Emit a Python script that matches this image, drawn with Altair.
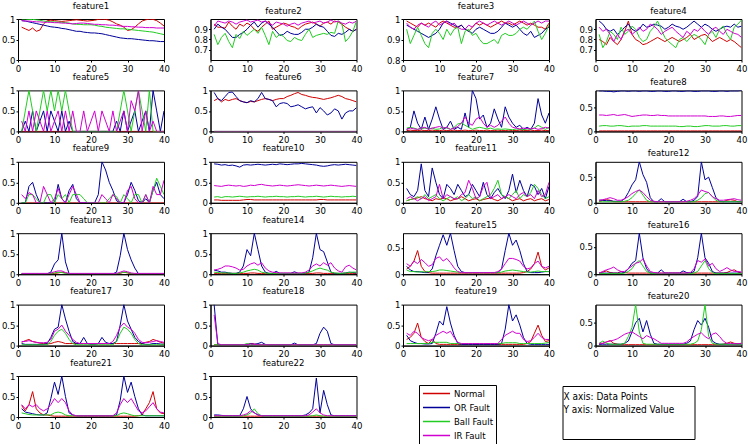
import altair as alt

FONT = "DejaVu Sans Condensed, Liberation Sans, sans-serif"
LABELS = ["Normal", "OR Fault", "Ball Fault", "IR Fault"]
KEYS = ["normal", "outer", "ball", "inner"]
COLORS = ["#d00000", "#000099", "#22cc22", "#d000d0"]
XTICKS = [0, 10, 20, 30, 40]
NOTE_LINES = ["X axis: Data Points", "Y axis: Normalized Value"]

# values in percent of the normalized range, for data points 1..40
F1 = dict(
    normal=[80, 76, 72, 78, 70, 73, 88, 96, 97, 96,
            95, 94, 95, 96, 97, 98, 97, 96, 95, 96,
            97, 99, 100, 99, 97, 93, 88, 85, 80, 72,
            74, 80, 88, 95, 98, 100, 99, 96, 90, 83],
    outer=[96, 95, 93, 91, 89, 87, 85, 83, 81, 80,
           79, 77, 76, 74, 72, 70, 70, 68, 67, 66,
           66, 65, 64, 62, 60, 58, 56, 54, 53, 52,
           52, 51, 50, 49, 48, 47, 47, 46, 45, 45],
    ball=[100, 100, 99, 99, 98, 97, 95, 94, 93, 93,
          92, 92, 91, 90, 88, 87, 87, 86, 86, 86,
          85, 83, 82, 80, 79, 78, 77, 76, 76, 75,
          74, 73, 72, 71, 70, 69, 68, 66, 64, 62],
    inner=[96, 95, 95, 94, 93, 93, 92, 92, 92, 91,
           91, 90, 90, 89, 88, 89, 90, 90, 89, 88,
           87, 87, 86, 86, 85, 85, 84, 83, 82, 82,
           81, 81, 80, 80, 79, 79, 79, 78, 78, 78],
)
F2 = dict(
    normal=[95, 92, 92, 91, 97, 93, 90, 95, 93, 96,
            94, 90, 88, 92, 95, 98, 90, 92, 94, 96,
            95, 93, 92, 90, 93, 95, 96, 97, 95, 93,
            96, 97, 95, 98, 97, 95, 92, 90, 88, 90],
    outer=[90, 95, 92, 90, 86, 82, 82, 85, 87, 90,
           94, 97, 92, 96, 98, 95, 92, 88, 84, 85,
           88, 86, 85, 85, 87, 90, 90, 92, 95, 93,
           92, 88, 84, 83, 86, 85, 87, 90, 88, 90],
    ball=[85, 75, 82, 86, 78, 72, 85, 81, 88, 84,
          87, 90, 86, 92, 84, 75, 88, 82, 85, 83,
          79, 78, 82, 80, 79, 85, 90, 82, 84, 85,
          86, 85, 87, 86, 98, 95, 78, 82, 88, 98],
    inner=[93, 98, 97, 96, 98, 97, 95, 97, 98, 99,
           97, 98, 99, 97, 98, 96, 94, 97, 96, 95,
           93, 95, 96, 94, 96, 97, 98, 96, 97, 98,
           96, 97, 99, 97, 98, 96, 95, 97, 96, 98],
)
F3 = dict(
    normal=[99, 98, 97, 96, 98, 97, 98, 97, 96, 98,
            99, 98, 97, 96, 96, 97, 95, 94, 96, 98,
            97, 98, 97, 96, 97, 98, 99, 98, 98, 97,
            98, 99, 98, 97, 98, 97, 96, 96, 95, 98],
    outer=[97, 96, 95, 94, 93, 92, 91, 92, 93, 95,
           98, 99, 98, 97, 96, 97, 95, 94, 93, 95,
           96, 95, 94, 93, 93, 94, 96, 98, 97, 96,
           97, 95, 93, 92, 94, 91, 92, 93, 95, 96],
    ball=[95, 88, 92, 96, 92, 88, 86, 93, 95, 93,
          90, 95, 92, 95, 96, 88, 94, 95, 92, 93,
          90, 88, 88, 89, 90, 88, 92, 93, 92, 92,
          93, 95, 96, 95, 97, 99, 94, 90, 93, 97],
    inner=[98, 96, 95, 97, 98, 97, 96, 98, 99, 97,
           98, 99, 97, 98, 96, 95, 95, 97, 96, 98,
           99, 98, 97, 98, 99, 98, 97, 98, 99, 98,
           97, 98, 99, 98, 97, 98, 99, 98, 99, 99],
)
F4 = dict(
    normal=[80, 78, 75, 82, 78, 75, 80, 88, 98, 85,
            80, 78, 75, 76, 78, 80, 82, 80, 78, 80,
            82, 80, 78, 80, 82, 85, 80, 82, 84, 85,
            82, 78, 80, 82, 80, 78, 80, 78, 75, 72],
    outer=[98, 95, 90, 88, 90, 85, 88, 92, 95, 90,
           88, 90, 95, 92, 93, 95, 94, 93, 90, 92,
           95, 93, 92, 90, 92, 95, 98, 95, 92, 95,
           93, 90, 88, 90, 92, 93, 92, 95, 92, 93],
    ball=[85, 72, 78, 88, 85, 80, 92, 85, 88, 93,
          90, 82, 78, 80, 88, 92, 98, 90, 82, 78,
          75, 72, 80, 82, 78, 82, 85, 83, 80, 75,
          85, 88, 82, 90, 93, 85, 80, 92, 95, 99],
    inner=[92, 88, 90, 85, 78, 85, 80, 88, 90, 85,
           88, 92, 88, 90, 95, 93, 90, 85, 88, 90,
           92, 88, 85, 82, 88, 85, 90, 88, 92, 88,
           85, 90, 92, 88, 85, 90, 88, 86, 85, 82],
)
F5 = dict(
    normal=[0, 0, 0, 0, 0, 0, 0, 0, 0, 0,
            0, 0, 0, 0, 0, 0, 0, 0, 0, 0,
            0, 0, 0, 0, 0, 0, 0, 0, 0, 0,
            0, 0, 0, 0, 0, 0, 0, 0, 0, 0],
    outer=[0, 25, 0, 50, 0, 25, 50, 0, 50, 25,
           0, 50, 0, 25, 0, 0, 0, 0, 0, 0,
           0, 0, 0, 0, 0, 0, 25, 0, 50, 0,
           25, 50, 0, 25, 50, 0, 100, 50, 0, 50],
    ball=[0, 50, 100, 50, 0, 50, 100, 50, 100, 50,
          100, 50, 100, 50, 0, 0, 0, 0, 0, 0,
          0, 0, 0, 0, 0, 0, 0, 50, 100, 50,
          0, 50, 100, 50, 0, 100, 0, 0, 0, 0],
    inner=[25, 0, 50, 0, 50, 25, 0, 50, 0, 25,
           50, 0, 50, 0, 50, 0, 0, 50, 0, 25,
           50, 0, 50, 25, 0, 50, 0, 25, 50, 0,
           75, 50, 100, 0, 50, 0, 25, 0, 0, 0],
)
F6 = dict(
    normal=[75, 80, 72, 78, 75, 78, 80, 75, 72, 70,
            73, 72, 75, 78, 80, 78, 75, 78, 80, 80,
            85, 88, 92, 95, 90, 88, 85, 83, 82, 80,
            78, 80, 82, 85, 88, 85, 80, 78, 75, 72],
    outer=[95, 80, 75, 85, 95, 96, 85, 75, 72, 70,
           75, 72, 80, 95, 80, 78, 75, 60, 68, 70,
           68, 60, 62, 65, 60, 55, 58, 60, 45, 58,
           50, 40, 45, 55, 50, 30, 45, 50, 50, 58],
    ball=[0, 0, 0, 0, 0, 0, 0, 0, 0, 0,
          0, 0, 0, 0, 0, 0, 0, 0, 0, 0,
          0, 0, 0, 0, 0, 0, 0, 0, 0, 0,
          0, 0, 0, 0, 0, 0, 0, 0, 0, 0],
    inner=[0, 0, 0, 0, 0, 0, 0, 0, 0, 0,
           0, 0, 0, 0, 0, 0, 0, 0, 0, 0,
           0, 0, 0, 0, 0, 0, 0, 0, 0, 0,
           0, 0, 0, 0, 0, 0, 0, 0, 0, 0],
)
F7 = dict(
    normal=[2, 3, 2, 2, 3, 2, 2, 3, 2, 2,
            3, 2, 2, 3, 2, 2, 3, 2, 2, 3,
            2, 2, 3, 2, 2, 3, 2, 2, 3, 2,
            2, 3, 2, 2, 3, 2, 2, 3, 2, 2],
    outer=[5, 10, 50, 20, 5, 35, 5, 30, 60, 30,
           5, 10, 25, 5, 10, 5, 45, 10, 100, 80,
           30, 40, 10, 20, 55, 30, 10, 60, 35, 20,
           10, 15, 5, 10, 5, 20, 80, 40, 20, 45],
    ball=[8, 10, 8, 5, 7, 8, 6, 8, 5, 6,
          10, 8, 5, 10, 18, 20, 15, 10, 5, 8,
          10, 8, 6, 8, 5, 6, 5, 6, 5, 4,
          6, 5, 4, 6, 5, 8, 15, 10, 5, 10],
    inner=[5, 8, 6, 5, 8, 10, 5, 8, 10, 12,
           8, 10, 5, 8, 12, 20, 35, 20, 15, 30,
           35, 20, 10, 15, 10, 15, 25, 35, 20, 10,
           8, 6, 8, 7, 6, 8, 5, 7, 10, 8],
)
F8 = dict(
    normal=[1, 1, 1, 1, 1, 1, 1, 1, 1, 1,
            1, 1, 1, 1, 1, 1, 1, 1, 1, 1,
            1, 1, 1, 1, 1, 1, 1, 1, 1, 1,
            1, 1, 1, 1, 1, 1, 1, 1, 1, 1],
    outer=[84, 84, 83, 83, 82, 83, 84, 84, 83, 84,
           84, 83, 84, 84, 83, 83, 84, 84, 83, 83,
           84, 84, 83, 83, 84, 84, 83, 83, 84, 84,
           84, 83, 83, 84, 84, 83, 84, 84, 84, 85],
    ball=[11, 12, 12, 11, 11, 12, 12, 11, 10, 11,
          11, 11, 12, 12, 11, 11, 11, 11, 11, 11,
          11, 11, 10, 10, 11, 11, 10, 10, 11, 12,
          12, 11, 11, 11, 12, 12, 11, 11, 12, 12],
    inner=[34, 34, 33, 34, 35, 33, 34, 35, 33, 31,
           32, 33, 34, 34, 33, 33, 34, 33, 33, 32,
           32, 32, 32, 32, 32, 32, 32, 32, 32, 32,
           31, 31, 31, 32, 32, 31, 31, 32, 33, 33],
)
F9 = dict(
    normal=[0, 0, 0, 0, 0, 0, 0, 0, 0, 0,
            0, 0, 0, 0, 0, 0, 0, 0, 0, 0,
            0, 0, 0, 0, 0, 0, 0, 0, 0, 0,
            0, 0, 0, 0, 0, 0, 0, 0, 0, 0],
    outer=[0, 0, 40, 50, 20, 0, 0, 0, 0, 0,
           45, 10, 0, 30, 45, 10, 0, 0, 0, 0,
           0, 20, 100, 80, 50, 30, 5, 0, 0, 20,
           50, 30, 5, 0, 10, 0, 30, 50, 20, 10],
    ball=[0, 0, 20, 20, 10, 0, 0, 20, 20, 0,
          20, 10, 20, 0, 20, 20, 20, 10, 0, 0,
          0, 0, 0, 0, 10, 20, 15, 0, 20, 10,
          0, 20, 20, 0, 20, 0, 30, 60, 40, 20],
    inner=[20, 10, 25, 20, 0, 0, 40, 20, 0, 10,
           35, 10, 0, 20, 40, 20, 0, 0, 0, 0,
           0, 0, 20, 10, 0, 20, 10, 0, 0, 30,
           40, 10, 0, 0, 20, 0, 40, 20, 20, 55],
)
F10 = dict(
    normal=[7, 7, 6, 6, 6, 6, 6, 6, 7, 8,
            8, 7, 7, 7, 7, 7, 7, 7, 7, 7,
            7, 7, 7, 7, 7, 7, 7, 7, 7, 8,
            8, 7, 7, 7, 7, 7, 7, 7, 7, 7],
    outer=[95, 94, 92, 93, 91, 92, 90, 87, 92, 93,
           92, 93, 94, 93, 92, 93, 94, 93, 95, 94,
           93, 94, 95, 95, 96, 95, 94, 93, 92, 90,
           89, 90, 92, 93, 92, 93, 94, 93, 92, 91],
    ball=[14, 15, 13, 15, 15, 14, 15, 16, 15, 14,
          15, 15, 16, 15, 14, 15, 15, 16, 15, 15,
          14, 15, 15, 16, 15, 14, 15, 15, 16, 15,
          14, 15, 16, 15, 15, 14, 15, 15, 16, 15],
    inner=[42, 41, 40, 42, 43, 42, 41, 42, 40, 41,
           43, 42, 44, 45, 43, 42, 41, 42, 43, 42,
           41, 42, 43, 44, 43, 42, 41, 42, 43, 42,
           41, 42, 43, 42, 41, 40, 41, 42, 41, 40],
)
F11 = dict(
    normal=[5, 8, 10, 12, 15, 10, 8, 5, 10, 8,
            12, 10, 5, 8, 10, 15, 10, 5, 8, 10,
            5, 8, 10, 12, 8, 5, 10, 15, 10, 5,
            8, 10, 5, 8, 10, 5, 8, 10, 5, 8],
    outer=[35, 20, 15, 30, 95, 30, 15, 85, 50, 20,
           10, 45, 35, 20, 45, 30, 15, 20, 45, 30,
           15, 50, 20, 10, 25, 35, 20, 10, 30, 70,
           25, 55, 30, 15, 45, 40, 20, 35, 10, 40],
    ball=[5, 8, 10, 15, 10, 20, 10, 15, 20, 10,
          5, 10, 15, 10, 15, 5, 10, 20, 10, 15,
          5, 10, 15, 20, 35, 55, 20, 15, 10, 20,
          30, 10, 20, 15, 25, 45, 35, 20, 10, 15],
    inner=[10, 15, 10, 5, 10, 15, 5, 10, 15, 45,
           10, 20, 15, 10, 10, 20, 25, 55, 35, 10,
           15, 40, 50, 10, 15, 20, 10, 15, 20, 15,
           10, 20, 25, 15, 20, 10, 30, 15, 20, 50],
)
F12 = dict(
    normal=[2, 5, 6, 5, 2, 2, 2, 2, 2, 2,
            2, 2, 2, 2, 2, 2, 2, 2, 2, 2,
            2, 2, 2, 2, 2, 2, 2, 2, 2, 2,
            2, 2, 2, 2, 2, 5, 6, 5, 2, 2],
    outer=[5, 5, 4, 4, 3, 3, 3, 8, 20, 35,
           45, 80, 55, 40, 10, 2, 2, 8, 2, 2,
           2, 2, 2, 7, 2, 2, 5, 12, 80, 45,
           50, 30, 10, 3, 2, 2, 2, 2, 2, 2],
    ball=[2, 2, 2, 2, 2, 2, 2, 3, 5, 10,
          18, 25, 15, 5, 2, 2, 2, 2, 2, 2,
          2, 2, 2, 2, 2, 2, 2, 5, 10, 18,
          20, 12, 5, 2, 2, 2, 2, 2, 2, 2],
    inner=[5, 6, 8, 10, 8, 5, 5, 8, 12, 18,
           22, 25, 20, 12, 5, 3, 2, 2, 2, 2,
           2, 2, 2, 2, 3, 5, 8, 15, 25, 22,
           20, 12, 8, 5, 5, 6, 7, 8, 6, 5],
)
F13 = dict(
    normal=[1, 1, 1, 1, 1, 1, 1, 1, 1, 2,
            3, 5, 3, 1, 1, 1, 1, 1, 1, 1,
            1, 1, 1, 1, 1, 1, 1, 2, 5, 3,
            1, 1, 1, 1, 1, 1, 1, 1, 1, 1],
    outer=[1, 1, 1, 1, 1, 1, 1, 1, 5, 25,
           35, 100, 30, 1, 1, 1, 1, 1, 1, 1,
           1, 1, 1, 1, 1, 1, 5, 45, 100, 60,
           35, 15, 1, 1, 1, 1, 1, 1, 1, 1],
    ball=[1, 1, 1, 1, 1, 1, 1, 1, 2, 3,
          5, 4, 2, 1, 1, 1, 1, 1, 1, 1,
          1, 1, 1, 1, 1, 1, 1, 3, 5, 4,
          2, 1, 1, 1, 1, 1, 1, 1, 1, 1],
    inner=[2, 2, 2, 2, 2, 2, 2, 2, 3, 6,
           8, 8, 4, 2, 2, 2, 2, 2, 2, 2,
           2, 2, 2, 2, 2, 2, 2, 5, 8, 6,
           3, 2, 2, 2, 2, 2, 2, 2, 2, 2],
)
F14 = dict(
    normal=[2, 2, 2, 2, 2, 2, 2, 2, 2, 2,
            3, 3, 2, 2, 2, 2, 2, 2, 2, 2,
            2, 2, 2, 2, 2, 2, 2, 2, 3, 3,
            2, 2, 2, 2, 2, 2, 2, 2, 2, 2],
    outer=[10, 8, 5, 5, 3, 2, 2, 5, 20, 60,
           45, 100, 60, 20, 5, 2, 2, 7, 2, 2,
           2, 2, 6, 2, 2, 3, 5, 40, 100, 60,
           55, 30, 5, 2, 2, 2, 3, 5, 4, 3],
    ball=[5, 4, 3, 3, 3, 2, 2, 3, 5, 8,
          10, 12, 10, 5, 3, 2, 2, 2, 2, 2,
          2, 2, 2, 2, 2, 3, 5, 8, 12, 15,
          12, 10, 5, 3, 2, 2, 3, 4, 5, 5],
    inner=[10, 12, 15, 20, 20, 18, 15, 10, 12, 20,
           25, 28, 22, 28, 15, 8, 5, 4, 3, 3,
           3, 3, 3, 3, 3, 5, 10, 20, 25, 20,
           28, 22, 28, 15, 8, 5, 18, 22, 15, 10],
)
F15 = dict(
    normal=[10, 15, 25, 45, 15, 5, 3, 2, 2, 2,
            2, 2, 2, 2, 2, 2, 2, 2, 2, 2,
            2, 2, 2, 2, 2, 2, 2, 2, 2, 2,
            2, 2, 3, 5, 10, 20, 42, 15, 8, 12],
    outer=[15, 8, 5, 5, 4, 3, 3, 10, 35, 55,
           75, 55, 78, 45, 15, 5, 3, 3, 3, 3,
           3, 3, 3, 3, 3, 3, 10, 45, 78, 55,
           65, 45, 20, 5, 3, 3, 3, 4, 5, 5],
    ball=[8, 5, 5, 4, 5, 4, 5, 5, 6, 8,
          8, 7, 6, 5, 4, 3, 3, 3, 3, 3,
          3, 3, 3, 3, 3, 3, 4, 6, 7, 8,
          7, 6, 5, 4, 4, 5, 6, 5, 5, 5],
    inner=[20, 15, 25, 20, 28, 22, 15, 18, 30, 33,
           25, 30, 22, 12, 5, 3, 3, 3, 3, 3,
           3, 3, 3, 3, 3, 5, 10, 20, 30, 30,
           28, 25, 15, 10, 12, 20, 25, 15, 12, 15],
)
F16 = dict(
    normal=[2, 4, 6, 3, 2, 2, 5, 3, 2, 2,
            2, 2, 2, 2, 2, 2, 2, 2, 2, 2,
            2, 2, 2, 2, 2, 2, 2, 2, 2, 2,
            2, 2, 2, 2, 2, 3, 6, 8, 4, 2],
    outer=[2, 2, 2, 2, 2, 2, 2, 3, 10, 20,
           25, 75, 30, 10, 2, 2, 2, 8, 2, 2,
           2, 2, 2, 6, 3, 2, 5, 30, 75, 30,
           20, 5, 2, 2, 2, 2, 2, 2, 2, 2],
    ball=[1, 1, 1, 1, 1, 1, 1, 2, 5, 10,
          20, 25, 15, 5, 2, 1, 1, 1, 1, 1,
          1, 1, 1, 1, 1, 1, 2, 5, 15, 25,
          10, 3, 1, 1, 1, 1, 1, 1, 1, 1],
    inner=[2, 5, 8, 10, 13, 8, 5, 5, 10, 15,
           20, 22, 28, 15, 5, 3, 2, 2, 2, 2,
           2, 2, 2, 2, 2, 3, 10, 25, 22, 28,
           15, 20, 10, 5, 8, 12, 8, 5, 5, 4],
)
F17 = dict(
    normal=[8, 12, 15, 10, 8, 6, 5, 4, 5, 8,
            10, 8, 5, 5, 5, 5, 5, 5, 5, 5,
            5, 5, 5, 5, 5, 5, 5, 5, 5, 5,
            5, 5, 5, 5, 8, 10, 15, 12, 8, 6],
    outer=[5, 3, 3, 3, 3, 3, 3, 5, 20, 40,
           45, 100, 65, 35, 10, 5, 5, 20, 5, 3,
           3, 5, 20, 8, 5, 5, 10, 50, 100, 60,
           40, 20, 10, 5, 3, 3, 5, 5, 4, 3],
    ball=[2, 2, 2, 2, 2, 2, 2, 2, 10, 25,
          35, 40, 30, 15, 5, 2, 2, 2, 2, 2,
          2, 2, 2, 2, 2, 2, 10, 30, 45, 40,
          30, 15, 5, 2, 2, 2, 2, 2, 2, 2],
    inner=[10, 10, 12, 10, 8, 7, 7, 8, 15, 35,
           40, 50, 35, 25, 15, 8, 5, 5, 5, 5,
           5, 5, 5, 5, 5, 10, 25, 45, 55, 45,
           40, 30, 15, 8, 7, 8, 10, 12, 10, 8],
)
F18 = dict(
    normal=[2, 2, 2, 2, 2, 2, 2, 2, 2, 2,
            5, 4, 2, 2, 2, 2, 2, 2, 2, 2,
            2, 2, 2, 2, 2, 2, 2, 2, 2, 2,
            2, 2, 2, 2, 2, 2, 2, 2, 2, 2],
    outer=[100, 2, 2, 2, 2, 2, 2, 2, 2, 2,
           5, 3, 5, 8, 3, 2, 2, 2, 2, 2,
           2, 2, 6, 2, 2, 2, 2, 2, 5, 30,
           45, 35, 5, 2, 2, 2, 2, 2, 2, 2],
    ball=[2, 2, 2, 2, 2, 2, 2, 2, 2, 5,
          3, 2, 2, 2, 2, 2, 2, 2, 2, 2,
          2, 2, 2, 2, 2, 2, 2, 2, 2, 2,
          2, 2, 2, 2, 2, 2, 2, 2, 2, 2],
    inner=[75, 5, 2, 2, 2, 2, 2, 2, 2, 2,
           4, 3, 2, 2, 2, 2, 2, 2, 2, 2,
           2, 2, 2, 2, 2, 2, 2, 2, 2, 2,
           2, 2, 2, 2, 2, 2, 2, 2, 2, 2],
)
F19 = dict(
    normal=[15, 20, 30, 55, 20, 10, 5, 15, 5, 3,
            3, 3, 3, 3, 3, 3, 3, 3, 3, 3,
            3, 3, 3, 3, 3, 3, 3, 3, 3, 3,
            3, 3, 3, 5, 10, 30, 50, 25, 10, 12],
    outer=[25, 12, 8, 5, 5, 4, 4, 5, 30, 60,
           50, 95, 55, 25, 5, 3, 3, 3, 3, 3,
           3, 3, 3, 3, 3, 3, 5, 40, 100, 60,
           75, 50, 20, 5, 3, 3, 3, 3, 3, 3],
    ball=[5, 5, 5, 5, 5, 5, 5, 8, 8, 8,
          8, 8, 5, 5, 5, 5, 5, 5, 5, 5,
          5, 5, 5, 5, 5, 5, 5, 7, 7, 7,
          7, 5, 5, 5, 5, 5, 5, 5, 6, 8],
    inner=[30, 25, 35, 30, 20, 15, 12, 15, 25, 30,
           35, 30, 35, 20, 8, 5, 5, 5, 5, 5,
           5, 5, 5, 5, 5, 5, 15, 25, 30, 35,
           30, 30, 15, 10, 12, 20, 30, 20, 15, 15],
)
F20 = dict(
    normal=[3, 5, 8, 11, 5, 3, 2, 2, 2, 2,
            2, 2, 2, 2, 2, 2, 2, 2, 2, 2,
            2, 2, 2, 2, 2, 2, 2, 2, 2, 2,
            2, 2, 2, 2, 3, 5, 8, 5, 4, 5],
    outer=[3, 3, 3, 3, 3, 3, 3, 5, 10, 30,
           50, 60, 30, 55, 25, 5, 3, 3, 3, 3,
           3, 3, 3, 3, 5, 10, 35, 55, 45, 60,
           40, 10, 5, 3, 3, 3, 3, 3, 3, 3],
    ball=[5, 10, 5, 3, 3, 3, 3, 5, 20, 40,
          90, 30, 5, 3, 3, 3, 3, 3, 3, 3,
          3, 3, 3, 3, 3, 3, 5, 10, 35, 90,
          20, 5, 3, 3, 3, 3, 3, 3, 3, 3],
    inner=[5, 5, 8, 10, 12, 15, 20, 25, 28, 30,
           25, 20, 15, 22, 18, 15, 10, 5, 5, 5,
           5, 5, 5, 5, 8, 15, 20, 25, 28, 20,
           15, 25, 28, 20, 10, 5, 5, 4, 4, 5],
)
F21 = dict(
    normal=[28, 15, 30, 62, 20, 10, 5, 5, 3, 2,
            2, 2, 2, 2, 2, 2, 2, 2, 2, 2,
            2, 2, 2, 2, 2, 2, 2, 2, 2, 2,
            2, 2, 3, 5, 20, 35, 62, 20, 10, 8],
    outer=[20, 12, 10, 8, 6, 5, 5, 10, 45, 85,
           55, 100, 50, 10, 5, 3, 3, 3, 3, 3,
           3, 3, 3, 3, 3, 3, 5, 40, 100, 60,
           85, 50, 20, 5, 3, 3, 3, 3, 3, 3],
    ball=[10, 8, 6, 5, 5, 5, 5, 5, 5, 10,
          12, 10, 5, 3, 3, 3, 3, 3, 3, 3,
          3, 3, 3, 3, 3, 3, 3, 8, 10, 8,
          5, 3, 3, 3, 3, 3, 3, 3, 3, 3],
    inner=[30, 20, 30, 25, 30, 20, 15, 20, 30, 45,
           35, 45, 35, 15, 5, 3, 3, 3, 3, 3,
           3, 3, 3, 3, 3, 3, 10, 30, 45, 35,
           45, 30, 15, 10, 15, 25, 35, 20, 12, 10],
)
F22 = dict(
    normal=[2, 2, 2, 2, 2, 2, 2, 2, 2, 2,
            2, 2, 2, 2, 2, 2, 2, 2, 2, 2,
            2, 2, 2, 2, 2, 2, 2, 2, 2, 2,
            2, 2, 2, 2, 2, 2, 2, 2, 2, 2],
    outer=[5, 5, 4, 3, 3, 3, 3, 3, 20, 50,
           20, 10, 5, 3, 3, 3, 3, 3, 3, 3,
           3, 3, 3, 3, 3, 5, 10, 20, 95, 10,
           65, 30, 5, 3, 3, 3, 3, 3, 3, 3],
    ball=[2, 2, 2, 2, 2, 2, 2, 2, 3, 5,
          10, 20, 8, 3, 2, 2, 2, 2, 2, 2,
          2, 2, 2, 2, 2, 2, 2, 3, 5, 3,
          2, 2, 2, 2, 2, 2, 2, 2, 2, 2],
    inner=[3, 3, 3, 3, 3, 3, 3, 3, 5, 8,
           15, 10, 5, 3, 3, 3, 3, 3, 3, 3,
           3, 3, 3, 3, 3, 3, 5, 12, 20, 10,
           5, 3, 3, 3, 3, 3, 3, 3, 3, 3],
)

# (title, data, y-domain, y-ticks)
PANELS = [
    ("feature1", F1, [0, 1], [0, 0.5, 1]),
    ("feature2", F2, [0.6, 1], [0.7, 0.8, 0.9]),
    ("feature3", F3, [0.8, 1], [0.8, 0.9, 1]),
    ("feature4", F4, [0.6, 1], [0.7, 0.8, 0.9]),
    ("feature5", F5, [0, 1], [0, 0.5, 1]),
    ("feature6", F6, [0, 1], [0, 0.5, 1]),
    ("feature7", F7, [0, 1], [0, 0.5, 1]),
    ("feature8", F8, [0, 0.85], [0, 0.5]),
    ("feature9", F9, [0, 1], [0, 0.5, 1]),
    ("feature10", F10, [0, 1], [0, 0.5, 1]),
    ("feature11", F11, [0, 1], [0, 0.5, 1]),
    ("feature12", F12, [0, 0.8], [0, 0.5]),
    ("feature13", F13, [0, 1], [0, 0.5, 1]),
    ("feature14", F14, [0, 1], [0, 0.5, 1]),
    ("feature15", F15, [0, 0.78], [0, 0.5]),
    ("feature16", F16, [0, 0.75], [0, 0.5]),
    ("feature17", F17, [0, 1], [0, 0.5, 1]),
    ("feature18", F18, [0, 1], [0, 0.5, 1]),
    ("feature19", F19, [0, 1], [0, 0.5, 1]),
    ("feature20", F20, [0, 0.9], [0, 0.5]),
    ("feature21", F21, [0, 1], [0, 0.5, 1]),
    ("feature22", F22, [0, 1], [0, 0.5, 1]),
]

PW, PH = 146, 41
HSPACE, VSPACE = 46.5, 30.4

LEGEND = alt.Legend(
    title=None, orient="none", legendX=401, legendY=366,
    symbolType="stroke", symbolSize=729, symbolStrokeWidth=1.5,
    symbolOpacity=1,
    labelFont=FONT, labelFontSize=9.5, labelColor="black", labelOffset=3,
    strokeColor="black", fillColor="white", padding=3, rowPadding=3,
    clipHeight=11,
)


def long_rows(feat):
    rows = []
    for key, label in zip(KEYS, LABELS):
        for i, v in enumerate(feat[key]):
            rows.append({"x": i + 1, "v": v / 100, "s": label})
    return rows


def panel(title, feat, ydom, yticks):
    return alt.Chart(alt.Data(values=long_rows(feat)), title=title).mark_line(
        strokeWidth=1, clip=True
    ).encode(
        x=alt.X("x:Q", title=None,
                scale=alt.Scale(domain=[0, 40], nice=False, zero=False),
                axis=alt.Axis(values=XTICKS)),
        y=alt.Y("v:Q", title=None,
                scale=alt.Scale(domain=ydom, nice=False, zero=False),
                axis=alt.Axis(values=yticks, format="~g")),
        color=alt.Color("s:N", title=None,
                        scale=alt.Scale(domain=LABELS, range=COLORS),
                        legend=LEGEND),
    ).properties(width=PW, height=PH)


def spacer(w, h):
    return alt.Chart(alt.Data(values=[{"k": 0}])).mark_point(
        opacity=0, size=0
    ).properties(width=w, height=h, view=alt.ViewBackground(stroke="transparent"))


charts = [panel(*p) for p in PANELS]

textbox = alt.Chart(alt.Data(values=[{"k": 0}])).mark_point(
    opacity=0, size=0
).encode(
    x=alt.X("k:Q", axis=None),
    y=alt.Y("k:Q", axis=None),
).properties(
    width=132, height=53,
    view=alt.ViewBackground(stroke="black", strokeWidth=1),
    title=alt.TitleParams(text=NOTE_LINES, anchor="start", frame="group",
                          baseline="top", dx=1, dy=29, offset=0,
                          fontSize=10, lineHeight=13),
)

# the note box sits in the third cell of the last row, shifted right/down
note_cell = alt.hconcat(
    spacer(113, 1),
    alt.vconcat(spacer(132, 10), textbox, spacing=0, bounds="flush"),
    spacing=HSPACE, bounds="flush",
)

chart = alt.concat(
    *charts, note_cell, columns=4,
    spacing={"row": VSPACE, "column": HSPACE}, bounds="flush",
).properties(
    padding={"left": 0, "top": 0, "right": 0, "bottom": 0}
).configure_view(
    stroke="black", strokeWidth=1
).configure_axis(
    labelFont=FONT, labelFontSize=9.5, labelColor="black",
    domainColor="black", tickColor="black", tickSize=2, labelPadding=1,
    grid=False, labelFlush=False, labelOverlap=False,
).configure_title(
    font=FONT, fontSize=9.5, fontWeight="normal", color="black",
    offset=4, baseline="bottom", frame="group", anchor="middle",
)

chart.save("out.html", embed_options={"renderer": "svg", "actions": False})
